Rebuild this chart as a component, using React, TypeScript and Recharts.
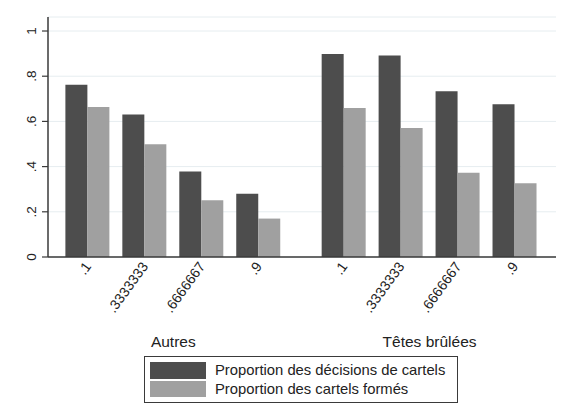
import { BarChart, Bar, XAxis, YAxis, CartesianGrid, Legend } from "recharts";

const GROUPS = ["Autres", "Têtes brûlées"];
const CATEGORIES = [".1", ".3333333", ".6666667", ".9"];
const DECISIONS_AUTRES = [0.762, 0.631, 0.378, 0.28];
const FORMES_AUTRES = [0.664, 0.499, 0.251, 0.17];
const DECISIONS_TETES = [0.898, 0.892, 0.733, 0.676];
const FORMES_TETES = [0.659, 0.571, 0.373, 0.326];
const Y_TICKS = [0, 0.2, 0.4, 0.6, 0.8, 1];
const SERIES = ["Proportion des décisions de cartels", "Proportion des cartels formés"];

const DARK = "#4d4d4d";
const LIGHT = "#a0a0a0";
const AXIS = "#3a3a3a";
const TEXT = "#222";
const FONT = "'Liberation Sans', Arial, sans-serif";

// half a slot of empty space between the two groups
const GROUP_GAP = 0.5;
const STEP = CATEGORIES.length + GROUP_GAP;

const decisions = [DECISIONS_AUTRES, DECISIONS_TETES];
const formes = [FORMES_AUTRES, FORMES_TETES];

const data = GROUPS.flatMap((g, gi) =>
  CATEGORIES.map((c, ci) => ({
    pos: gi * STEP + ci,
    label: c,
    group: g,
    decisions: decisions[gi][ci],
    formes: formes[gi][ci],
  }))
);

const labelByPos: Record<number, string> = {};
data.forEach(d => (labelByPos[d.pos] = d.label));
const groupPos = GROUPS.map((_, gi) => gi * STEP + (CATEGORIES.length - 1) / 2);
const groupByPos: Record<number, string> = {};
GROUPS.forEach((g, gi) => (groupByPos[groupPos[gi]] = g));

const X_DOMAIN = [-0.7, STEP + CATEGORIES.length - 1 + 0.72];

const fmtY = (v: number) => (v === 0 ? "0" : v === 1 ? "1" : String(v).replace(/^0/, ""));

function XTick({ x, y, payload }: any) {
  return (
    <text x={x} y={y} dy="0.35em" textAnchor="end" transform={`rotate(-54, ${x}, ${y})`}
      fontSize={14} fill={TEXT} fontFamily={FONT}>
      {labelByPos[payload.value]}
    </text>
  );
}

function GroupTick({ x, y, payload }: any) {
  return (
    <text x={x} y={y} dy={15} textAnchor="middle" fontSize={15.5} fill={TEXT} fontFamily={FONT}>
      {groupByPos[payload.value]}
    </text>
  );
}

function YTick({ x, y, payload }: any) {
  return (
    <text x={x} y={y} textAnchor="middle" transform={`rotate(-90, ${x}, ${y})`}
      fontSize={13.5} fill={TEXT} fontFamily={FONT}>
      {fmtY(payload.value)}
    </text>
  );
}

function LegendBox({ payload }: any) {
  const items = [...(payload || [])].sort((a: any, b: any) => SERIES.indexOf(a.value) - SERIES.indexOf(b.value));
  return (
    <div style={{
      border: `1.5px solid ${AXIS}`, boxSizing: "border-box", width: 314, height: 47,
      padding: "4px 5px", background: "#fff", fontFamily: FONT,
    }}>
      {items.map((p: any) => (
        <div key={p.value} style={{ display: "flex", alignItems: "center", height: 18.5 }}>
          <span style={{ width: 56, height: 16.5, background: p.color, marginRight: 9, flex: "none" }} />
          <span style={{ fontSize: 14.8, color: TEXT, whiteSpace: "nowrap" }}>{p.value}</span>
        </div>
      ))}
    </div>
  );
}

export default function App() {
  return (
    <div style={{ position: "absolute", left: 0, top: 0, width: 562, height: 413, background: "#fff" }}>
      <BarChart width={562} height={413} data={data} margin={{ top: 17, right: 6, left: 0, bottom: 51 }}
        barGap={0}>
        <CartesianGrid vertical={false} stroke="#e6edf0" />
        <XAxis dataKey="pos" type="number" domain={X_DOMAIN} allowDataOverflow ticks={data.map(d => d.pos)}
          tick={<XTick />} tickLine={false} tickSize={0} tickMargin={6.5} height={75} interval={0}
          axisLine={{ stroke: AXIS, strokeWidth: 1.5 }} />
        <XAxis xAxisId="group" dataKey="pos" type="number" domain={X_DOMAIN} allowDataOverflow ticks={groupPos}
          tick={<GroupTick />} tickLine={false} axisLine={false} tickSize={0} tickMargin={0} height={30}
          interval={0} />
        <YAxis type="number" domain={[0, 1.062]} allowDataOverflow ticks={Y_TICKS} width={48}
          tick={<YTick />} tickSize={6} tickMargin={6} interval={0}
          tickLine={{ stroke: AXIS, strokeWidth: 1.2 }} axisLine={{ stroke: AXIS, strokeWidth: 1.5 }} />
        <Legend layout="horizontal" verticalAlign="middle" align="center" content={<LegendBox />}
          wrapperStyle={{ left: 144, top: 356, width: 314, height: 47 }} />
        <Bar dataKey="decisions" name={SERIES[0]} fill={DARK} barSize={22} isAnimationActive={false} />
        <Bar dataKey="formes" name={SERIES[1]} fill={LIGHT} barSize={22} isAnimationActive={false} />
      </BarChart>
    </div>
  );
}
